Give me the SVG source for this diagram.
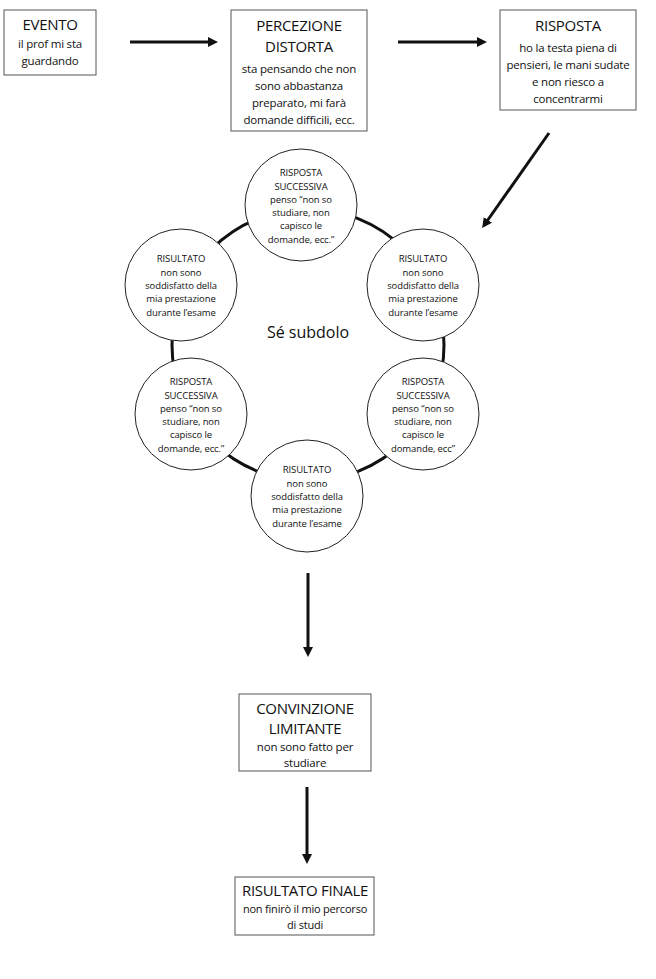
<svg xmlns="http://www.w3.org/2000/svg" width="656" height="979" viewBox="0 0 656 979">
<style>
text{font-family:"Open Sans","Noto Sans",sans-serif;fill:#111;text-anchor:middle}
.t{font-size:15px;letter-spacing:-0.3px}.b{font-size:11.5px;letter-spacing:-0.2px}.c{font-size:9.5px;letter-spacing:-0.1px}
.box{fill:#fff;stroke:#555;stroke-width:1}
.node{fill:#fff;stroke:#222;stroke-width:1}
.con{stroke:#111;stroke-width:3;fill:none}
</style>
<defs><marker id="ah" markerWidth="10" markerHeight="10" refX="5" refY="5" orient="auto" markerUnits="userSpaceOnUse" viewBox="0 0 10 10"><path d="M0,0L10,5L0,10z" fill="#111"/></marker></defs>
<rect width="656" height="979" fill="#fff"/>
<g id="connectors">
<circle cx="308" cy="345" r="136" class="con"/>
<line x1="130" y1="42" x2="213" y2="42" class="con" marker-end="url(#ah)"/>
<line x1="398" y1="42" x2="482" y2="42" class="con" marker-end="url(#ah)"/>
<line x1="549" y1="133" x2="485" y2="224" class="con" marker-end="url(#ah)"/>
<line x1="308" y1="573" x2="308" y2="652" class="con" marker-end="url(#ah)"/>
<line x1="307" y1="787" x2="307" y2="859" class="con" marker-end="url(#ah)"/>
</g>
<g id="evento"><rect x="4" y="10" width="92" height="65" class="box"/>
<text x="50" y="30" class="t">EVENTO</text><text x="50" y="48" class="b">il prof mi sta</text><text x="50" y="65" class="b">guardando</text></g>
<g id="percezione"><rect x="231" y="10" width="136" height="121" class="box"/>
<text x="299" y="31" class="t">PERCEZIONE</text><text x="299" y="52" class="t">DISTORTA</text>
<text x="299" y="73" class="b">sta pensando che non</text><text x="299" y="90" class="b">sono abbastanza</text><text x="299" y="107" class="b">preparato, mi farà</text><text x="299" y="124" class="b">domande difficili, ecc.</text></g>
<g id="risposta"><rect x="500" y="10" width="136" height="100" class="box"/>
<text x="568" y="31" class="t">RISPOSTA</text><text x="568" y="52" class="b">ho la testa piena di</text><text x="568" y="69" class="b">pensieri, le mani sudate</text><text x="568" y="86" class="b">e non riesco a</text><text x="568" y="103" class="b">concentrarmi</text></g>
<text x="308" y="338" style="font-size:16px">Sé subdolo</text>
<g id="c1"><circle cx="301" cy="205" r="56" class="node"/>
<text x="301" y="176" class="c">RISPOSTA</text><text x="301" y="190" class="c">SUCCESSIVA</text><text x="301" y="203" class="c">penso “non so</text><text x="301" y="216" class="c">studiare, non</text><text x="301" y="229" class="c">capisco le</text><text x="301" y="243" class="c">domande, ecc.”</text></g>
<g id="c2"><circle cx="423" cy="285" r="56" class="node"/>
<text x="423" y="262" class="c">RISULTATO</text><text x="423" y="276" class="c">non sono</text><text x="423" y="289" class="c">soddisfatto della</text><text x="423" y="302" class="c">mia prestazione</text><text x="423" y="316" class="c">durante l’esame</text></g>
<g id="c3"><circle cx="423" cy="414" r="56" class="node"/>
<text x="423" y="385" class="c">RISPOSTA</text><text x="423" y="399" class="c">SUCCESSIVA</text><text x="423" y="412" class="c">penso “non so</text><text x="423" y="425" class="c">studiare, non</text><text x="423" y="438" class="c">capisco le</text><text x="423" y="452" class="c">domande, ecc”</text></g>
<g id="c4"><circle cx="307" cy="496" r="56" class="node"/>
<text x="307" y="473" class="c">RISULTATO</text><text x="307" y="487" class="c">non sono</text><text x="307" y="500" class="c">soddisfatto della</text><text x="307" y="513" class="c">mia prestazione</text><text x="307" y="527" class="c">durante l’esame</text></g>
<g id="c5"><circle cx="191" cy="414" r="56" class="node"/>
<text x="191" y="385" class="c">RISPOSTA</text><text x="191" y="399" class="c">SUCCESSIVA</text><text x="191" y="412" class="c">penso “non so</text><text x="191" y="425" class="c">studiare, non</text><text x="191" y="438" class="c">capisco le</text><text x="191" y="452" class="c">domande, ecc.”</text></g>
<g id="c6"><circle cx="181" cy="285" r="56" class="node"/>
<text x="181" y="262" class="c">RISULTATO</text><text x="181" y="276" class="c">non sono</text><text x="181" y="289" class="c">soddisfatto della</text><text x="181" y="302" class="c">mia prestazione</text><text x="181" y="316" class="c">durante l’esame</text></g>
<g id="convinzione"><rect x="239" y="694" width="132" height="77" class="box"/>
<text x="305" y="714" class="t">CONVINZIONE</text><text x="305" y="734" class="t">LIMITANTE</text><text x="305" y="751" class="b">non sono fatto per</text><text x="305" y="767" class="b">studiare</text></g>
<g id="finale"><rect x="235" y="877" width="139" height="58" class="box"/>
<text x="305" y="896" class="t">RISULTATO FINALE</text><text x="305" y="913" class="b" style="font-size:11px">non finirò il mio percorso</text><text x="305" y="929" class="b" style="font-size:11px">di studi</text></g>
</svg>
